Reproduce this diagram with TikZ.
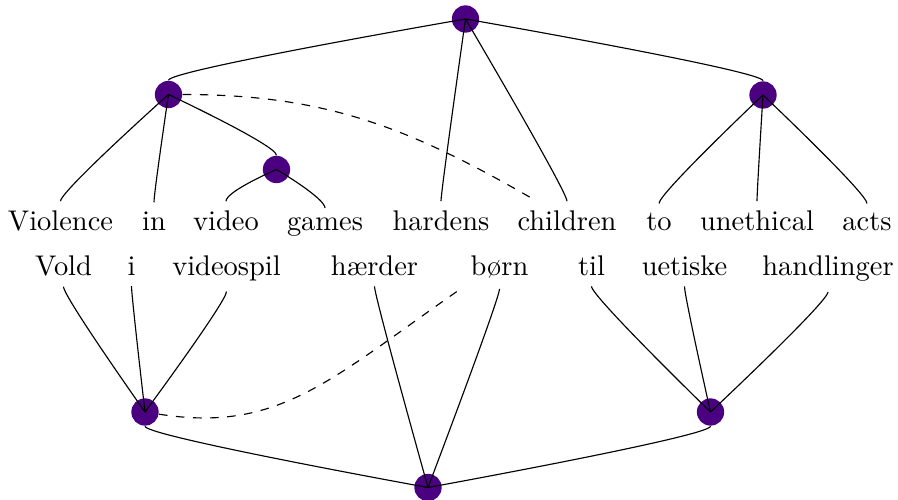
\documentclass[tikz,border=0pt]{standalone}
\usetikzlibrary{calc}
\definecolor{indigo}{RGB}{75,0,130}
% tree edges: leave the dependent vertically, run into the head's centre
\newcommand\depup[2]{\draw[dep] (#1) .. controls +(0,-10) and (#2.center) .. (#2.center);}
\newcommand\depdown[2]{\draw[dep] (#1) .. controls +(0,10) and (#2.center) .. (#2.center);}
\begin{document}
\begin{tikzpicture}[x=0.3515pt,y=-0.3515pt,
  head/.style={circle,fill=indigo,draw=none,inner sep=0pt,minimum size=9.6pt},
  word/.style={anchor=base},
  dep/.style={black,line width=0.4pt},
  link/.style={black,line width=0.4pt,dashed}]
\useasboundingbox (0,0) rectangle (898,500);

% English sentence
\node[word] (e1) at (60.5,231) {Violence};
\node[word] (e2) at (154,231) {in};
\node[word] (e3) at (226,231) {video};
\node[word] (e4) at (325,231) {games};
\node[word] (e5) at (441,231) {hardens};
\node[word] (e6) at (567,231) {children};
\node[word] (e7) at (659,231) {to};
\node[word] (e8) at (757,231) {unethical};
\node[word] (e9) at (867,231) {acts};

% Danish sentence
\node[word] (d1) at (63.5,276) {Vold};
\node[word] (d2) at (131.5,276) {i};
\node[word] (d3) at (226.5,276) {videospil};
\node[word] (d4) at (374.5,276) {hærder};
\node[word] (d5) at (499.5,276) {børn};
\node[word] (d6) at (591.5,276) {til};
\node[word] (d7) at (684.5,276) {uetiske};
\node[word] (d8) at (828,276) {handlinger};

% heads of the upper tree
\node[head] (root) at (465.5,19) {};
\node[head] (lh) at (168.5,94.5) {};
\node[head] (sm) at (276.5,169.5) {};
\node[head] (rh) at (763,95) {};

% heads of the lower tree
\node[head] (bl) at (145,412) {};
\node[head] (br) at (710.5,412) {};
\node[head] (bt) at (428,487.5) {};

% upper tree
\depup{lh.north}{root}
\depup{e5.north}{root}
\depup{e6.north}{root}
\depup{rh.north}{root}
\depup{e1.north}{lh}
\depup{e2.north}{lh}
\depup{sm.north}{lh}
\depup{e3.north}{sm}
\depup{e4.north}{sm}
\depup{e7.north}{rh}
\depup{e8.north}{rh}
\depup{e9.north}{rh}

% lower tree
\depdown{d1.south}{bl}
\depdown{d2.south}{bl}
\depdown{d3.south}{bl}
\depdown{d4.south}{bt}
\depdown{d5.south}{bt}
\depdown{bl.south}{bt}
\depdown{br.south}{bt}
\depdown{d6.south}{br}
\depdown{d7.south}{br}
\depdown{d8.south}{br}

% alignment links
\coordinate (cend) at (533,199);
\draw[link] (lh) .. controls +(157,0) and +(-124,-71.5) .. (cend);
\draw[link] (bl) .. controls +(134,21) and +(-131,91) .. (d5.south west);
\end{tikzpicture}
\end{document}
